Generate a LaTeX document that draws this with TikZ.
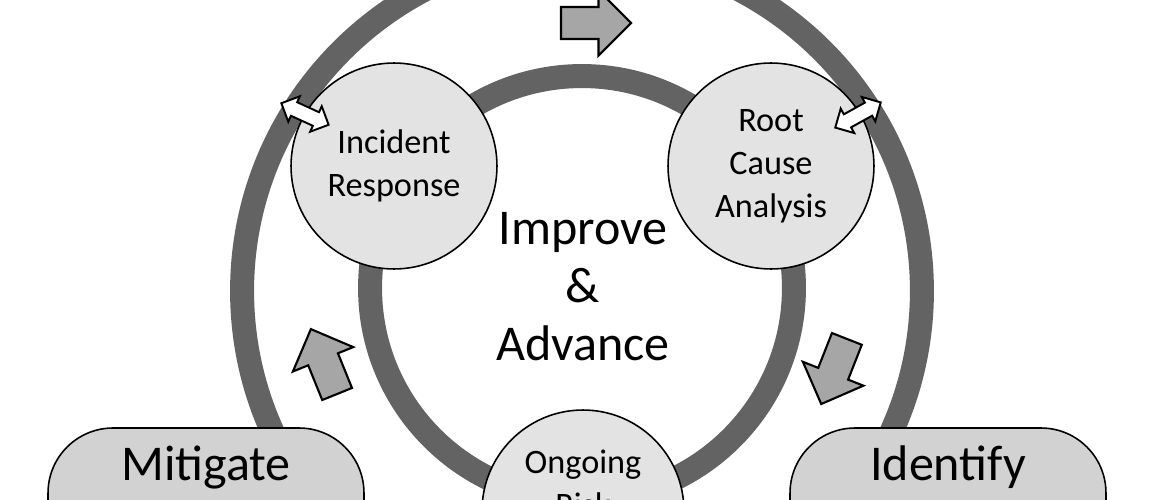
\documentclass[tikz,border=0pt]{standalone}
\usepackage{fontspec}
\setmainfont{Carlito}
\usetikzlibrary{shapes,arrows,calc,positioning}
\definecolor{ringgray}{RGB}{99,99,99}
\definecolor{stagefill}{RGB}{210,210,210}
\definecolor{stepfill}{RGB}{227,227,227}
\definecolor{flowfill}{RGB}{166,166,166}
\tikzset{
    ring/.style={draw=ringgray, line width=0.48cm},
    stepcircle/.style={circle, draw, line width=0.9pt, fill=stepfill, inner sep=0pt, align=center,
        minimum size=4.12cm, font=\fontsize{19.5}{24.5}\selectfont},
    stagebox/.style={rectangle, draw, line width=0.9pt, fill=stagefill, rounded corners=1.3cm,
        anchor=base, inner sep=0pt, text height=1.04cm, text depth=3cm, minimum width=6.32cm,
        font=\fontsize{28.5}{33}\selectfont},
    flowarrow/.style={single arrow, draw, line width=1.2pt, fill=flowfill, inner xsep=0pt,
        inner ysep=0.3cm, minimum height=1.4cm, single arrow head extend=0.33cm},
    linkarrow/.style={double arrow, draw, line width=1.1pt, fill=white, inner xsep=0pt,
        inner ysep=0.13cm, minimum height=1.04cm, double arrow head extend=0.13cm}
}
\begin{document}
\begin{tikzpicture}[x=0.02cm, y=-0.02cm]
            \useasboundingbox (0,0) rectangle (1170,500);
            \clip (0,0) rectangle (1170,500);
            \coordinate (outer) at (582,291);
            \coordinate (inner) at (582,288);
            \draw[ring] (outer) circle [radius=6.8cm];
            \draw[ring] (inner) circle [radius=4.24cm];
            \draw (394,166) node[stepcircle] (incident) {Incident\\Response};
            \draw (771,166) node[stepcircle] (rootcause) {Root\\Cause\\Analysis};
            \draw (583,511) node[stepcircle, minimum size=4.04cm] (ongoing) {Ongoing\\Risk\\\strut};
            \draw (583,287) node[align=center, font=\fontsize{28.5}{33}\selectfont] (hub) {Improve\\\&\\Advance};
            \draw (206,480) node[stagebox] (mitigate) {Mitigate};
            \draw (948,480) node[stagebox] (identify) {Identify};
            \draw (588,23) node[flowarrow] (flowtop) {};
            \draw (327,369) node[flowarrow, rotate=112] (flowleft) {};
            \draw (837,364) node[flowarrow, rotate=248.5] (flowright) {};
            \draw (305,114) node[linkarrow, rotate=-24.5] (linkleft) {};
            \draw (858,115) node[linkarrow, rotate=29] (linkright) {};
        \end{tikzpicture}
\end{document}
